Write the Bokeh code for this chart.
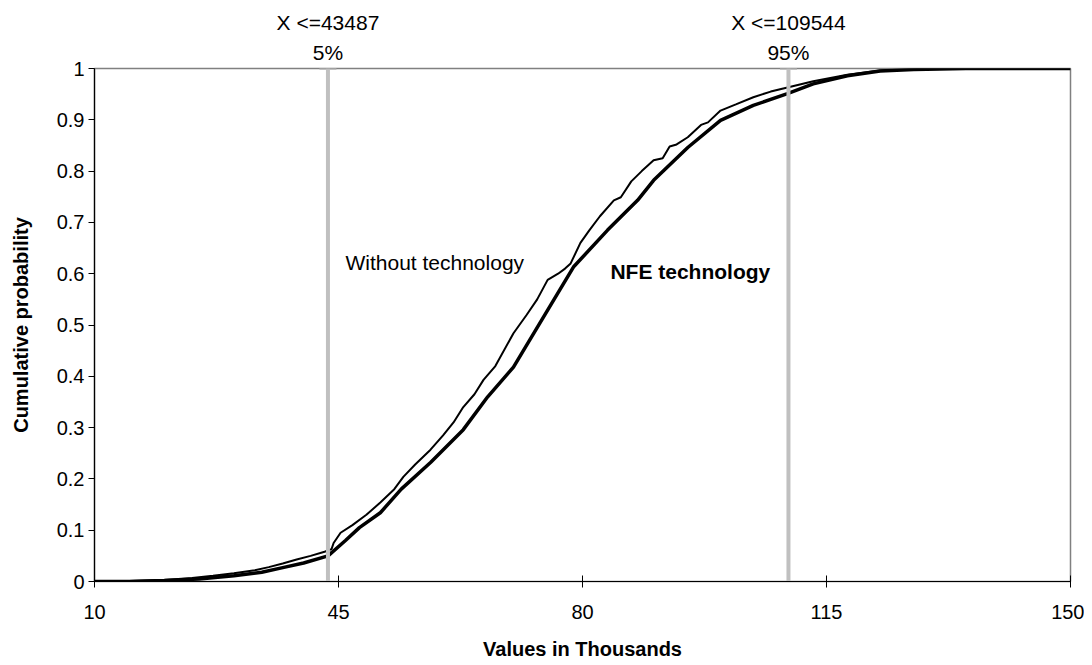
from bokeh.plotting import figure
from bokeh.models import Range1d, FixedTicker, NumeralTickFormatter, Label, LinearAxis
from bokeh.embed import file_html
from bokeh.resources import INLINE

# ---- data (values in thousands) ----
without_x = [10, 15, 20, 24, 27, 30, 33, 35, 37, 39, 41, 43, 44, 44.3, 45.3, 47, 49, 51, 53,
             54.3, 56, 58.2, 60, 61.5, 62.9, 64.5, 65.8, 67.5, 70.1, 72, 73.5, 75, 76.5, 77.5,
             78.3, 79.7, 81, 82.5, 84.5, 85.5, 87, 88.5, 90.2, 91.5, 92.5, 93.5, 95.1, 97, 98,
             99.8, 102, 104.5, 107, 109.4, 113.1, 118, 122.7, 128, 135, 150]
without_y = [0, 0.001, 0.003, 0.007, 0.011, 0.016, 0.022, 0.028, 0.035, 0.043, 0.05, 0.058,
             0.063, 0.075, 0.095, 0.11, 0.13, 0.154, 0.18, 0.204, 0.228, 0.257, 0.285, 0.31,
             0.34, 0.365, 0.393, 0.42, 0.484, 0.52, 0.55, 0.588, 0.6, 0.61, 0.62, 0.66, 0.685,
             0.712, 0.743, 0.749, 0.78, 0.8, 0.821, 0.825, 0.848, 0.852, 0.866, 0.89, 0.895,
             0.918, 0.93, 0.944, 0.955, 0.963, 0.975, 0.988, 0.996, 0.999, 1.0, 1.0]

nfe_x = [10, 15, 20, 25, 30, 34, 37, 40, 43.5, 46, 48, 51, 54, 58.2, 62.9, 66.4, 70.1, 75,
         78.7, 83.6, 87.9, 90.2, 95.1, 99.8, 104.5, 109.4, 113.1, 118, 122.7, 127.5, 135, 150]
nfe_y = [0, 0.0, 0.002, 0.005, 0.011, 0.018, 0.027, 0.036, 0.05, 0.08, 0.105, 0.134, 0.18,
         0.232, 0.296, 0.36, 0.418, 0.529, 0.613, 0.685, 0.743, 0.782, 0.846, 0.899, 0.928,
         0.951, 0.97, 0.986, 0.995, 0.998, 1.0, 1.0]

marker_x = [43.487, 109.544]
marker_value_labels = ["X <=43487", "X <=109544"]
marker_pct_labels = ["5%", "95%"]

x_ticks = [10, 45, 80, 115, 150]
y_ticks = [0, 0.1, 0.2, 0.3, 0.4, 0.5, 0.6, 0.7, 0.8, 0.9, 1.0]

FONT = "Liberation Sans"

p = figure(width=1084, height=662, output_backend="svg", toolbar_location=None,
           x_range=Range1d(10, 150), y_range=Range1d(0, 1),
           min_border_left=94, min_border_right=14, min_border_top=68, min_border_bottom=80)
p.grid.visible = False
p.outline_line_color = "#808080"
p.outline_line_width = 1.5
p.background_fill_color = "white"
p.border_fill_color = "white"

# axes
p.xaxis.ticker = FixedTicker(ticks=x_ticks)
p.yaxis.ticker = FixedTicker(ticks=y_ticks)
p.yaxis.formatter = NumeralTickFormatter(format="0.[0]")
for ax in (p.xaxis[0], p.yaxis[0]):
    ax.axis_line_color = "black"
    ax.axis_line_width = 1.2
    ax.major_tick_line_color = "black"
    ax.minor_tick_line_color = None
    ax.major_label_text_font = FONT
    ax.major_label_text_font_size = "20px"
    ax.major_label_text_color = "black"
    ax.axis_label_text_font = FONT
    ax.axis_label_text_font_size = "20px"
    ax.axis_label_text_font_style = "bold"
    ax.axis_label_text_color = "black"
p.xaxis.major_tick_in = 6
p.xaxis.major_tick_out = 6
p.yaxis.major_tick_in = 0
p.yaxis.major_tick_out = 6
p.xaxis.major_label_standoff = 17
p.yaxis.major_label_standoff = 4
p.xaxis.axis_label = "Values in Thousands"
p.yaxis.axis_label = "Cumulative probability"
p.xaxis.axis_label_standoff = 16
p.yaxis.axis_label_standoff = 22

# top axis carrying the percentile labels
top = LinearAxis(ticker=FixedTicker(ticks=marker_x),
                 major_label_overrides={xv: f"{a}\n{b}" for xv, a, b in
                                        zip(marker_x, marker_value_labels, marker_pct_labels)})
top.axis_line_color = None
top.major_tick_line_color = None
top.minor_tick_line_color = None
top.major_tick_in = 0
top.major_tick_out = 0
top.major_label_standoff = 5
top.major_label_text_font = FONT
top.major_label_text_font_size = "21px"
top.major_label_text_color = "black"
top.major_label_text_line_height = 1.3
p.add_layout(top, "above")

# curves
p.line(nfe_x, nfe_y, line_color="black", line_width=3.5)
p.line(without_x, without_y, line_color="black", line_width=2)

# percentile markers
p.segment(x0=marker_x, y0=[0] * len(marker_x), x1=marker_x, y1=[1] * len(marker_x),
          line_color="#c0c0c0", line_width=4)
p.scatter(marker_x, [1] * len(marker_x), marker="dash", size=17,
          line_color="#c0c0c0", line_width=3)

p.add_layout(Label(x=46.0, y=0.6226, text="Without technology", text_align="left",
                   text_baseline="alphabetic", text_font=FONT, text_font_size="21px",
                   text_color="black"))
p.add_layout(Label(x=84.0, y=0.605, text="NFE technology", text_align="left",
                   text_baseline="alphabetic", text_font=FONT, text_font_size="21px",
                   text_font_style="bold", text_color="black"))

open("out.html", "w").write(file_html(p, INLINE))
